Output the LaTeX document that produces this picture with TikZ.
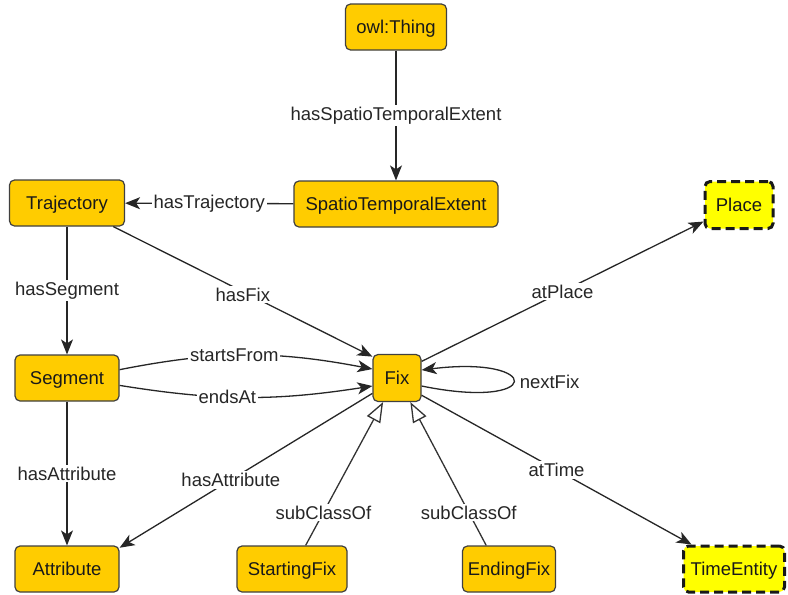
\documentclass[tikz,border=0pt]{standalone}
\usepackage{fontspec}
\setmainfont{Liberation Sans}
\usetikzlibrary{arrows.meta}
\definecolor{gold}{HTML}{FFCC00}
\definecolor{ylw}{HTML}{FFFF00}
\begin{document}
\begin{tikzpicture}[x=1pt,y=-1pt,
 every node/.style={font=\fontsize{18.5}{20}\selectfont},
 cls/.style={draw=black!75, line width=1.2pt, fill=gold, rounded corners=5pt, minimum height=46pt, inner sep=0pt, text height=13pt, text depth=0pt, text=black!90},
 ext/.style={cls, fill=ylw, draw=black!90, line width=3pt, dash pattern=on 9pt off 5pt},
 conn/.style={line width=1.3pt, draw=black!85, -{Stealth[length=15pt,width=12pt,inset=4pt]}},
 sub/.style={line width=1.3pt, draw=black!80, -{Triangle[open,length=20pt,width=15pt,fill=white]}},
 lbl/.style={fill=white, inner sep=2pt, text=black!85}]
\useasboundingbox[fill=white] (0,0) rectangle (788,595);
% nodes
\node[cls, minimum width=101pt] (thing) at (396,27) {owl:Thing};
\node[cls, minimum width=204pt] (ste) at (396,204) {SpatioTemporalExtent};
\node[cls, minimum width=115pt] (traj) at (67,203) {Trajectory};
\node[ext, minimum width=68pt, minimum height=47pt] (place) at (739,205) {Place};
\node[cls, minimum width=104pt] (seg) at (67,378) {Segment};
\node[cls, minimum width=48pt, minimum height=47pt] (fix) at (397,378) {Fix};
\node[cls, minimum width=104pt] (attr) at (67,569) {Attribute};
\node[cls, minimum width=110pt] (sf) at (292,569) {StartingFix};
\node[cls, minimum width=93pt] (ef) at (509,569) {EndingFix};
\node[ext, minimum width=101pt] (time) at (734,569) {TimeEntity};
% connectors
\draw[conn] (thing) -- node[lbl]{hasSpatioTemporalExtent} (ste);
\draw[conn] (ste) -- node[lbl]{hasTrajectory} (traj);
\draw[conn] (traj) -- node[lbl]{hasSegment} (seg);
\draw[conn] (traj.-27) -- node[lbl, pos=0.5, yshift=-3pt]{hasFix} (fix.139);
\draw[conn] (seg.9) to[bend left=11] node[lbl, pos=0.45]{startsFrom} (fix.160);
\draw[conn] (seg.-8) to[bend right=9] node[lbl, pos=0.42]{endsAt} (fix.198);
\draw[conn] (fix.34) -- node[lbl]{atPlace} (place.205);
\draw[conn] (fix.-18) .. controls +(122,25) and +(122,-15) .. node[lbl, right, pos=0.5, xshift=4pt]{nextFix} (fix.18);
\draw[conn] (seg) -- node[lbl]{hasAttribute} (attr);
\draw[conn] (fix.212) -- node[lbl, pos=0.56]{hasAttribute} (attr.22);
\draw[sub] (sf.60) -- node[lbl, pos=0.23]{subClassOf} (fix.240);
\draw[sub] (ef.134) -- node[lbl, pos=0.23]{subClassOf} (fix.-61);
\draw[conn] (fix.-35) -- node[lbl, pos=0.5]{atTime} (time.150);
\end{tikzpicture}
\end{document}
